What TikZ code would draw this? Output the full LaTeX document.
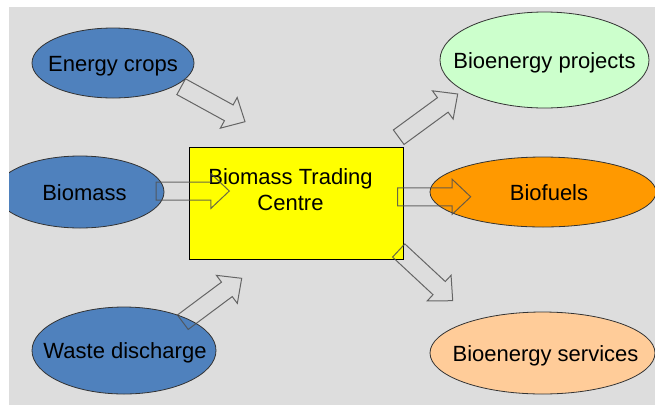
\documentclass[tikz,border=0pt]{standalone}
\usepackage{fontspec}
\setmainfont{Liberation Sans}
\usetikzlibrary{shapes.geometric,calc}

\definecolor{panelgray}{HTML}{DDDDDD}
\definecolor{ovalblue}{HTML}{4F81BD}
\definecolor{ovalgreen}{HTML}{CCFFCC}
\definecolor{ovalorange}{HTML}{FF9900}
\definecolor{ovalpeach}{HTML}{FFCC99}
\definecolor{boxyellow}{HTML}{FFFF00}
\definecolor{outline}{HTML}{333333}
\definecolor{arrowgray}{HTML}{505050}

% hollow block arrow from tail centre #1 to tip #2
\newcommand\arrshaft{9pt}
\newcommand\arrwing{17.5pt}
\newcommand\arrhead{18.5pt}
\newcommand\blockarrow[2]{%
  \path ($(#2)!\arrhead!(#1)$) coordinate (#1-#2-h);
  \draw[flowarrow]
    ($(#1)!\arrshaft!90:(#2)$) --
    ($(#1-#2-h)!\arrshaft!90:(#2)$) --
    ($(#1-#2-h)!\arrwing!90:(#2)$) --
    (#2) --
    ($(#1-#2-h)!\arrwing!-90:(#2)$) --
    ($(#1-#2-h)!\arrshaft!-90:(#2)$) --
    ($(#1)!\arrshaft!-90:(#2)$) -- cycle;
}

\begin{document}
\begin{tikzpicture}[x=1pt,y=-1pt,
  oval/.style={ellipse, draw=outline, line width=0.8pt, inner sep=0pt},
  ovaltext/.style={inner sep=0pt, text height=16pt, text depth=0pt,
    font=\fontsize{22}{26}\selectfont},
  tradebox/.style={rectangle, draw=black, fill=boxyellow, line width=0.9pt, inner sep=0pt},
  boxtext/.style={align=center, inner sep=0pt, font=\fontsize{22}{26}\selectfont},
  flowarrow/.style={draw=arrowgray, draw opacity=0.85, line width=1pt, line join=miter}]

\useasboundingbox (0,0) rectangle (655,405);
\fill[white] (0,0) rectangle (655,405);
\fill[panelgray] (9,7) rectangle (655,405);

\begin{scope}
  \clip (9,7) rectangle (655,405);

  % sources
  \node[oval, fill=ovalblue, minimum width=162pt, minimum height=70pt,
    label={[ovaltext]center:Energy crops}] (energy) at (113,63) {};
  \node[oval, fill=ovalblue, minimum width=168pt, minimum height=72pt,
    label={[ovaltext, xshift=4.5pt]center:Biomass}] (biomass) at (80,192) {};
  \node[oval, fill=ovalblue, minimum width=184pt, minimum height=87pt,
    label={[ovaltext, xshift=1pt]center:Waste discharge}] (waste) at (124,350.5) {};

  % outputs
  \node[oval, fill=ovalgreen, minimum width=209pt, minimum height=96pt,
    label={[ovaltext]center:Bioenergy projects}] (projects) at (544.5,60) {};
  \node[oval, fill=ovalorange, minimum width=226pt, minimum height=70pt,
    label={[ovaltext, xshift=6pt]center:Biofuels}] (biofuels) at (543,192) {};
  \node[oval, fill=ovalpeach, minimum width=225pt, minimum height=82pt,
    label={[ovaltext, xshift=3pt]center:Bioenergy services}] (services) at (542.5,353) {};

  % trading centre
  \node[tradebox, minimum width=214pt, minimum height=112pt] (centre) at (296,203) {};
  \node[boxtext] (centretext) at (290.5,190) {Biomass Trading\\Centre};

  % arrow end points
  \coordinate (ecT) at (181.2,86.7);  \coordinate (ecP) at (245,121.7);
  \coordinate (bmT) at (156,191);     \coordinate (bmP) at (229.3,191);
  \coordinate (wdT) at (182.8,322.2); \coordinate (wdP) at (241.7,278.3);
  \coordinate (bpT) at (398.7,137.2); \coordinate (bpP) at (457.7,94);
  \coordinate (bfT) at (397.7,196.8); \coordinate (bfP) at (470.7,196.8);
  \coordinate (bsT) at (398.7,250.5); \coordinate (bsP) at (452.7,300.7);

  \blockarrow{ecT}{ecP}
  \blockarrow{bmT}{bmP}
  \blockarrow{wdT}{wdP}
  \blockarrow{bpT}{bpP}
  \blockarrow{bfT}{bfP}
  \blockarrow{bsT}{bsP}
\end{scope}
\end{tikzpicture}
\end{document}
